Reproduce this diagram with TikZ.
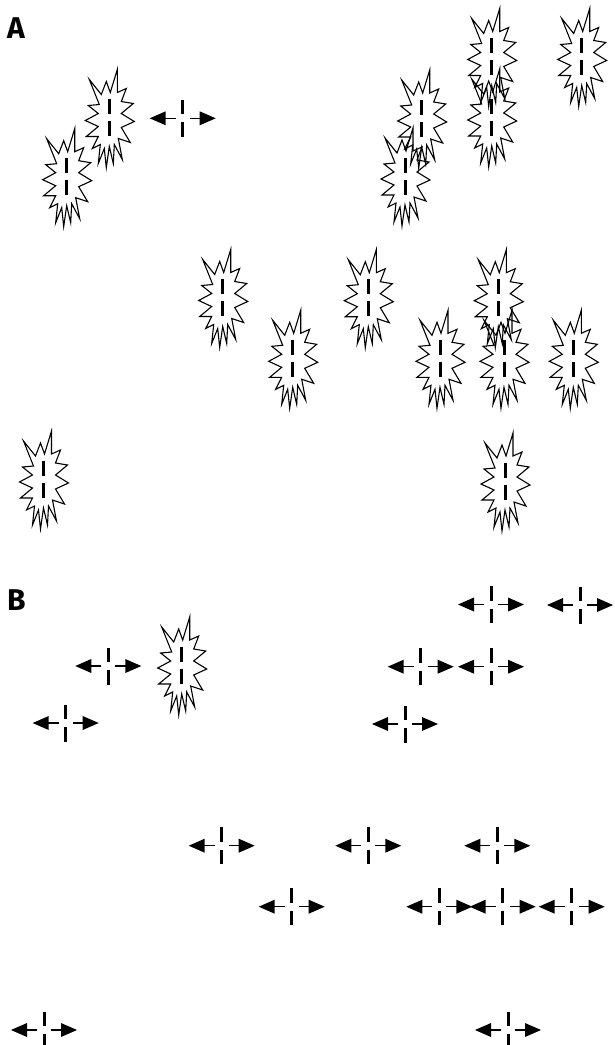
\documentclass[tikz,border=0pt]{standalone}
\usepackage{fontspec}
\setsansfont{Fira Sans}
\begin{document}
\begin{tikzpicture}[x=1pt,y=-1pt,
  burstline/.style={line width=1.1pt,line join=miter,black},
  dashline/.style={line width=3pt,black},
  thinline/.style={line width=1.4pt,black},
  lab/.style={font=\sffamily\bfseries\fontsize{30}{30}\selectfont,inner sep=0pt,anchor=base west},
  burst/.pic={
    \draw[burstline] (-20,-38) -- (-8,-23) -- (-3,-36) -- (1,-25) -- (8,-48) -- (8,-25)
      -- (17,-29) -- (12,-16) -- (24,-14) -- (12,-4) -- (25,4) -- (12,10) -- (21,25)
      -- (9,21) -- (13,42) -- (5,27) -- (4,46) -- (0,29) -- (-3,50) -- (-5,31)
      -- (-11,46) -- (-9,27) -- (-17,31) -- (-11,19) -- (-23,19) -- (-11,9)
      -- (-24,3) -- (-11,-4) -- (-21,-12) -- (-10,-13) -- cycle;
    \draw[dashline] (0,-18.5) -- (0,-3.5) (0,3.5) -- (0,18.5);
  },
  arrowsym/.pic={
    \fill[black] (-33,0) -- (-17,-7) -- (-17,7) -- cycle;
    \fill[black] (33,0) -- (17,-7) -- (17,7) -- cycle;
    \draw[thinline] (-17.5,0) -- (-7,0) (7,0) -- (17.5,0);
    \draw[dashline] (0,-18.5) -- (0,-4) (0,4) -- (0,18.5);
  }]
\useasboundingbox (0,0) rectangle (614,1045);
% Panel A
\node[lab] (labA) at (7,38) {A};
\pic (a1) at (66.7,176.7) {burst};
\pic (a2) at (109.3,117.5) {burst};
\pic (a3) at (182.7,118.3) {arrowsym};
\pic (a4) at (491.7,56.5) {burst};
\pic (a5) at (491.7,117) {burst};
\pic (a6) at (421.7,118) {burst};
\pic (a7) at (405,176) {burst};
\pic (a8) at (581.7,56.5) {burst};
\pic (a9) at (222.7,297.5) {burst};
\pic (a10) at (292.7,358.3) {burst};
\pic (a11) at (368.3,297.7) {burst};
\pic (a12) at (440,358.3) {burst};
\pic (a13) at (498.3,297.7) {burst};
\pic (a14) at (504,358.3) {burst};
\pic (a15) at (573.3,358.3) {burst};
\pic (a16) at (43.5,479) {burst};
\pic (a17) at (505,481) {burst};
% Panel B
\node[lab] (labB) at (7,610) {B};
\pic (b1) at (181.7,665) {burst};
\pic (b2) at (108.3,666) {arrowsym};
\pic (b3) at (65.7,723) {arrowsym};
\pic (b4) at (491,604.5) {arrowsym};
\pic (b5) at (580,605) {arrowsym};
\pic (b6) at (420.7,666.7) {arrowsym};
\pic (b7) at (491,666.7) {arrowsym};
\pic (b8) at (405,724) {arrowsym};
\pic (b9) at (221.7,845.7) {arrowsym};
\pic (b10) at (368.3,845.7) {arrowsym};
\pic (b11) at (497.3,845.7) {arrowsym};
\pic (b12) at (291.7,906.7) {arrowsym};
\pic (b13) at (439.3,906.7) {arrowsym};
\pic (b14) at (502.7,906.7) {arrowsym};
\pic (b15) at (571.7,906.7) {arrowsym};
\pic (b16) at (44,1030) {arrowsym};
\pic (b17) at (508,1030) {arrowsym};
\end{tikzpicture}
\end{document}
